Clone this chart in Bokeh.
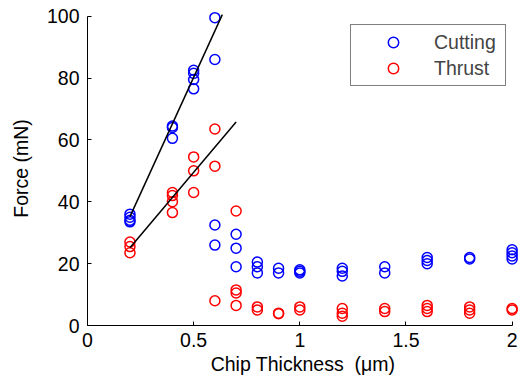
from bokeh.plotting import figure
from bokeh.models import Range1d, Legend, LegendItem, FixedTicker, CustomJSTickFormatter
from bokeh.embed import file_html
from bokeh.resources import INLINE

# Data (chip thickness in um, force in mN)
cut_x = [0.2, 0.2, 0.2, 0.2,
         0.4, 0.4, 0.4,
         0.5, 0.5, 0.5, 0.5,
         0.6, 0.6, 0.6, 0.6,
         0.7, 0.7, 0.7,
         0.8, 0.8, 0.8,
         0.9, 0.9,
         1.0, 1.0, 1.0,
         1.2, 1.2, 1.2,
         1.4, 1.4,
         1.6, 1.6, 1.6,
         1.8, 1.8,
         2.0, 2.0, 2.0, 2.0]
cut_y = [36, 35, 34, 33.5,
         64.5, 64, 60.5,
         82.5, 81.5, 79.5, 76.5,
         99.5, 86, 32.5, 26,
         29.5, 25, 19,
         20.5, 19, 17,
         18.5, 17,
         18, 17.5, 17,
         18.5, 17.5, 16,
         19, 17,
         22, 21, 20,
         22, 21.5,
         24.5, 23.5, 22.5, 21.5]

thr_x = [0.2, 0.2, 0.2,
         0.4, 0.4, 0.4, 0.4,
         0.5, 0.5, 0.5,
         0.6, 0.6, 0.6,
         0.7, 0.7, 0.7, 0.7,
         0.8, 0.8,
         0.9, 0.9,
         1.0, 1.0,
         1.2, 1.2, 1.2,
         1.4, 1.4,
         1.6, 1.6, 1.6,
         1.8, 1.8, 1.8,
         2.0, 2.0]
thr_y = [27, 25.5, 23.5,
         43, 42, 40, 36.5,
         54.5, 50, 43,
         63.5, 51.5, 8,
         37, 11.5, 10.5, 6.5,
         6, 5,
         4, 3.8,
         6, 5,
         5.5, 4, 3,
         5.5, 4.5,
         6.5, 5.5, 4.5,
         6, 5, 4,
         5.5, 5]

# Linear fit lines (endpoints)
cut_fit_x = [0.2, 0.635]
cut_fit_y = [35.2, 100.5]
thr_fit_x = [0.2, 0.7]
thr_fit_y = [25.1, 65.8]

x_ticks = [0, 0.5, 1, 1.5, 2]
y_ticks = [0, 20, 40, 60, 80, 100]

FONT = "Liberation Sans"
FS = "19.5px"

p = figure(width=521, height=383, x_range=Range1d(0, 2.03), y_range=Range1d(0, 101.5),
           output_backend="svg", toolbar_location=None,
           min_border_left=87, min_border_right=3, min_border_top=11, min_border_bottom=58)
p.outline_line_color = None
p.grid.visible = False
p.background_fill_color = "white"

rc = p.scatter(cut_x, cut_y, marker="circle", size=10, fill_color=None,
               line_color="#0000FF", line_width=1.5)
rt = p.scatter(thr_x, thr_y, marker="circle", size=10, fill_color=None,
               line_color="#FF0000", line_width=1.5)
p.line(cut_fit_x, cut_fit_y, line_color="black", line_width=1.5)
p.line(thr_fit_x, thr_fit_y, line_color="black", line_width=1.5)

for ax in (p.xaxis[0], p.yaxis[0]):
    ax.major_tick_in = 4
    ax.major_tick_out = 0
    ax.minor_tick_line_color = None
    ax.axis_line_color = "black"
    ax.major_tick_line_color = "black"
    ax.major_label_text_font = FONT
    ax.major_label_text_font_size = FS
    ax.major_label_text_color = "black"
    ax.axis_label_text_font = FONT
    ax.axis_label_text_font_size = FS
    ax.axis_label_text_font_style = "normal"
    ax.axis_label_text_color = "black"

p.xaxis.bounds = (0, 2)
p.yaxis.bounds = (0, 100)
p.xaxis.ticker = FixedTicker(ticks=x_ticks)
p.yaxis.ticker = FixedTicker(ticks=y_ticks)
p.xaxis.formatter = CustomJSTickFormatter(code="return tick.toString();")
p.xaxis.axis_label = "Chip Thickness\u00a0\u00a0(μm)"
p.yaxis.axis_label = "Force (mN)"
p.xaxis.major_label_standoff = 7
p.yaxis.major_label_standoff = 8
p.xaxis.axis_label_standoff = 3
p.yaxis.axis_label_standoff = 12

legend = Legend(items=[LegendItem(label="Cutting", renderers=[rc]),
                       LegendItem(label="Thrust", renderers=[rt])],
                location=(263, 239), margin=0, padding=4, spacing=0,
                glyph_width=76, glyph_height=26, label_height=26,
                label_standoff=3, label_width=67,
                label_text_font=FONT, label_text_font_size=FS,
                border_line_color="black", border_line_width=1,
                background_fill_color="white", background_fill_alpha=1)
p.add_layout(legend)

open("out.html", "w").write(file_html(p, INLINE))
